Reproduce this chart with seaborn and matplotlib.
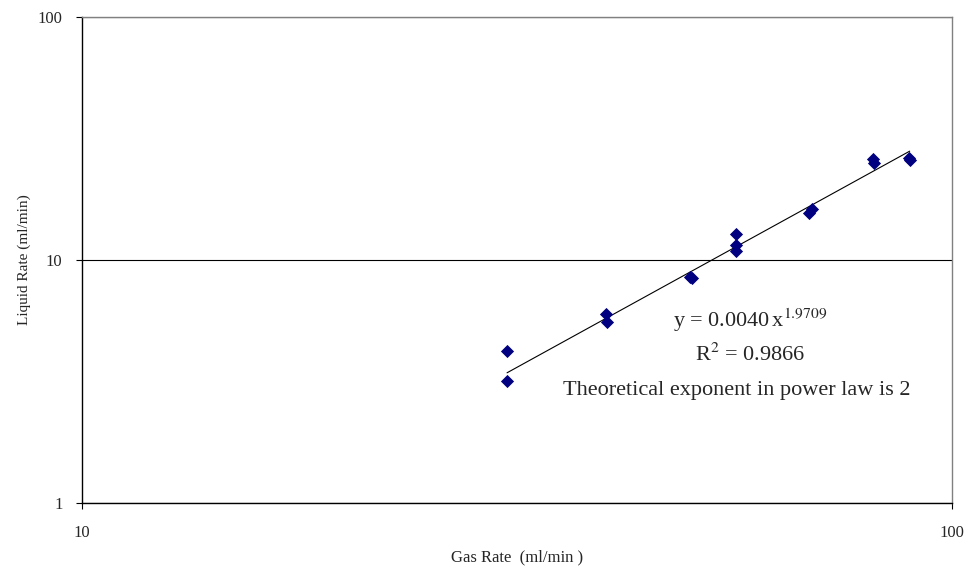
import matplotlib.pyplot as plt
import seaborn as sns
import numpy as np
import pandas as pd

# Gas rate vs liquid rate (ml/min)
gas_rate = [30.8, 30.8, 40.0, 40.1, 50.0, 50.2, 56.5, 56.5, 56.5, 68.4, 69.1, 81.1, 81.4, 89.3, 89.4]
liquid_rate = [4.23, 3.19, 6.0, 5.54, 8.54, 8.4, 12.76, 11.53, 10.92, 15.56, 16.17, 25.95, 25.1, 26.2, 25.9]

# power law trendline, as shown on the chart
fit_a = 0.0040
fit_b = 1.9709
r_squared = 0.9866

df = pd.DataFrame({"gas": gas_rate, "liquid": liquid_rate})

sns.set_style("white")
plt.rcParams["font.family"] = ["Liberation Serif", "DejaVu Serif"]
plt.rcParams["mathtext.fontset"] = "stix"

fig = plt.figure(figsize=(9.68, 5.71), dpi=100)
ax = fig.add_axes([0.0847, 0.1191, 0.8988, 0.8511])

sns.scatterplot(data=df, x="gas", y="liquid", marker="D", color="#000080",
                s=45, edgecolor="#000080", linewidth=0, ax=ax, zorder=3)

xs = np.linspace(min(gas_rate), max(gas_rate), 50)
ax.plot(xs, fit_a * xs ** fit_b, color="black", lw=0.8, zorder=2)

ax.set_xscale("log")
ax.set_yscale("log")
ax.set_xlim(10, 100)
ax.set_ylim(1, 100)
ax.set_xticks([10, 100])
ax.set_xticklabels(["10", "100"])
ax.set_yticks([1, 10, 100])
ax.set_yticklabels(["1", "10", "100"])
ax.minorticks_off()
ax.tick_params(axis="both", direction="out", length=4, width=0.8, labelsize=12,
               bottom=True, left=True, color="black")
ax.tick_params(axis="x", pad=12)
ax.tick_params(axis="y", pad=10)
ax.yaxis.grid(True, color="black", lw=0.8)
ax.xaxis.grid(False)

for side in ["left", "bottom"]:
    ax.spines[side].set_color("black")
    ax.spines[side].set_linewidth(1.0)
for side in ["top", "right"]:
    ax.spines[side].set_color("#808080")
    ax.spines[side].set_linewidth(1.0)

ax.set_xlabel("Gas Rate  (ml/min )", fontsize=12, labelpad=6)
ax.set_ylabel("Liquid Rate (ml/min)", fontsize=11, labelpad=5)

ax.text(0.768, 0.3765, r"y = 0.0040$\,$x$^{1.9709}$", transform=ax.transAxes,
        ha="center", va="center", fontsize=16)
ax.text(0.768, 0.3045, r"R$^{2}$ = 0.9866", transform=ax.transAxes,
        ha="center", va="center", fontsize=16)
ax.text(0.753, 0.2325, "Theoretical exponent in power law is 2", transform=ax.transAxes,
        ha="center", va="center", fontsize=16)

fig.savefig("out.png", dpi=100)
